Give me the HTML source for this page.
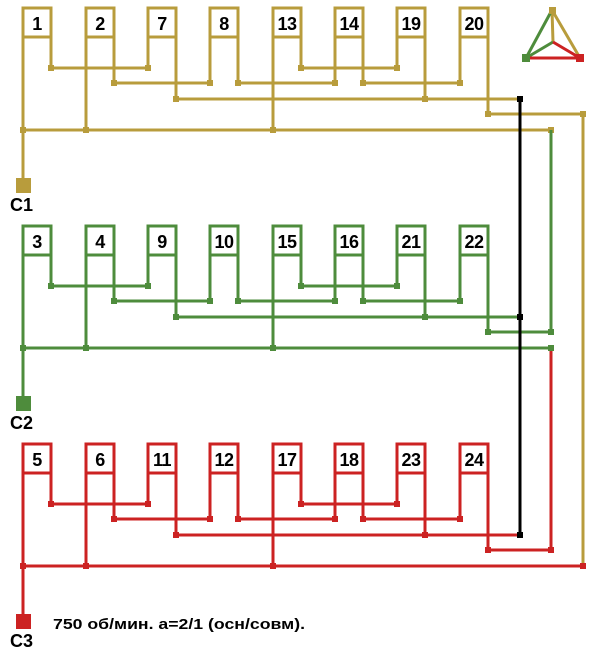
<!DOCTYPE html>
<html><head><meta charset="utf-8"><style>
html,body{margin:0;padding:0;background:#fff;}
svg{display:block;}
text{font-family:"Liberation Sans",Arial,sans-serif;font-weight:bold;fill:#000;}
.n{font-size:18px;text-anchor:middle;letter-spacing:-0.5px;}
</style></head><body>
<svg width="605" height="655" viewBox="0 0 605 655" xmlns="http://www.w3.org/2000/svg">
<defs>
<g id="grp" fill="none" stroke="currentColor" stroke-width="3">
<path d="M23 37V130 M51 37V68 M86 37V130 M114 37V83 M148 37V68 M176 37V99 M210 37V83 M238 37V83 M273 37V130 M301 37V68 M335 37V83 M363 37V83 M397 37V68 M425 37V99 M460 37V83 M488 37V114 M51 68H148 M301 68H397 M114 83H210 M238 83H335 M363 83H460 M176 99H520"/>
<g fill="#fff">
<rect x="23" y="8" width="28" height="29"/><rect x="86" y="8" width="28" height="29"/><rect x="148" y="8" width="28" height="29"/><rect x="210" y="8" width="28" height="29"/><rect x="273" y="8" width="28" height="29"/><rect x="335" y="8" width="28" height="29"/><rect x="397" y="8" width="28" height="29"/><rect x="460" y="8" width="28" height="29"/>
</g>
<g fill="currentColor" stroke="none">
<rect x="48" y="65" width="6" height="6"/><rect x="145" y="65" width="6" height="6"/><rect x="298" y="65" width="6" height="6"/><rect x="394" y="65" width="6" height="6"/>
<rect x="111" y="80" width="6" height="6"/><rect x="207" y="80" width="6" height="6"/><rect x="235" y="80" width="6" height="6"/><rect x="332" y="80" width="6" height="6"/><rect x="360" y="80" width="6" height="6"/><rect x="457" y="80" width="6" height="6"/>
<rect x="173" y="96" width="6" height="6"/><rect x="422" y="96" width="6" height="6"/>
<rect x="485" y="111" width="6" height="6"/>
<rect x="20" y="127" width="6" height="6"/><rect x="83" y="127" width="6" height="6"/><rect x="270" y="127" width="6" height="6"/>
</g>
</g>
</defs>

<g color="#b89c3c">
<use href="#grp"/>
<path d="M488 114H583V566 M23 130H551 M23 130V180" fill="none" stroke="#b89c3c" stroke-width="3"/>
<rect x="580" y="111" width="6" height="6" fill="#b89c3c"/>
<rect x="548" y="127" width="6" height="6" fill="#b89c3c"/>
<rect x="16" y="178" width="15" height="15" fill="#b89c3c"/>
</g>
<g color="#4e8c3c" transform="translate(0,218)">
<use href="#grp"/>
<path d="M488 114H551 M23 130H551 M23 130V180" fill="none" stroke="#4e8c3c" stroke-width="3"/>
<rect x="548" y="111" width="6" height="6" fill="#4e8c3c"/>
<rect x="548" y="127" width="6" height="6" fill="#4e8c3c"/>
<rect x="16" y="178" width="15" height="15" fill="#4e8c3c"/>
</g>
<path d="M551 130V332" stroke="#4e8c3c" stroke-width="3"/>
<g color="#cc2222" transform="translate(0,436)">
<use href="#grp"/>
<path d="M488 114H551 M23 130H583 M23 130V180" fill="none" stroke="#cc2222" stroke-width="3"/>
<rect x="548" y="111" width="6" height="6" fill="#cc2222"/>
<rect x="580" y="127" width="6" height="6" fill="#cc2222"/>
<rect x="16" y="178" width="15" height="15" fill="#cc2222"/>
</g>
<path d="M551 351V550" stroke="#cc2222" stroke-width="3"/>
<path d="M520 99V535" stroke="#000" stroke-width="3"/>
<rect x="517" y="96" width="6" height="6"/><rect x="517" y="314" width="6" height="6"/><rect x="517" y="532" width="6" height="6"/>

<g stroke-width="3">
<line x1="552" y1="10" x2="580" y2="58" stroke="#b89c3c"/>
<line x1="552" y1="10" x2="553" y2="42" stroke="#b89c3c"/>
<line x1="552" y1="10" x2="526" y2="58" stroke="#4e8c3c"/>
<line x1="526" y1="58" x2="553" y2="42" stroke="#4e8c3c"/>
<line x1="526" y1="58" x2="580" y2="58" stroke="#cc2222"/>
<line x1="553" y1="42" x2="580" y2="58" stroke="#cc2222"/>
</g>
<rect x="549" y="7" width="7" height="7" fill="#b89c3c"/>
<rect x="522" y="54" width="8" height="8" fill="#4e8c3c"/>
<rect x="576" y="54" width="8" height="8" fill="#cc2222"/>

<g class="n">
<text class="n" x="37" y="30">1</text><text class="n" x="100" y="30">2</text><text class="n" x="162" y="30">7</text><text class="n" x="224" y="30">8</text><text class="n" x="287" y="30">13</text><text class="n" x="349" y="30">14</text><text class="n" x="411" y="30">19</text><text class="n" x="474" y="30">20</text>
<text class="n" x="37" y="248">3</text><text class="n" x="100" y="248">4</text><text class="n" x="162" y="248">9</text><text class="n" x="224" y="248">10</text><text class="n" x="287" y="248">15</text><text class="n" x="349" y="248">16</text><text class="n" x="411" y="248">21</text><text class="n" x="474" y="248">22</text>
<text class="n" x="37" y="466">5</text><text class="n" x="100" y="466">6</text><text class="n" x="162" y="466">11</text><text class="n" x="224" y="466">12</text><text class="n" x="287" y="466">17</text><text class="n" x="349" y="466">18</text><text class="n" x="411" y="466">23</text><text class="n" x="474" y="466">24</text>
</g>
<text x="10" y="211" font-size="18">C1</text>
<text x="10" y="429" font-size="18">C2</text>
<text x="10" y="647" font-size="18">C3</text>
<text x="53" y="629" font-size="15" textLength="252" lengthAdjust="spacingAndGlyphs">750 об/мин. а=2/1 (осн/совм).</text>
</svg>
</body></html>
